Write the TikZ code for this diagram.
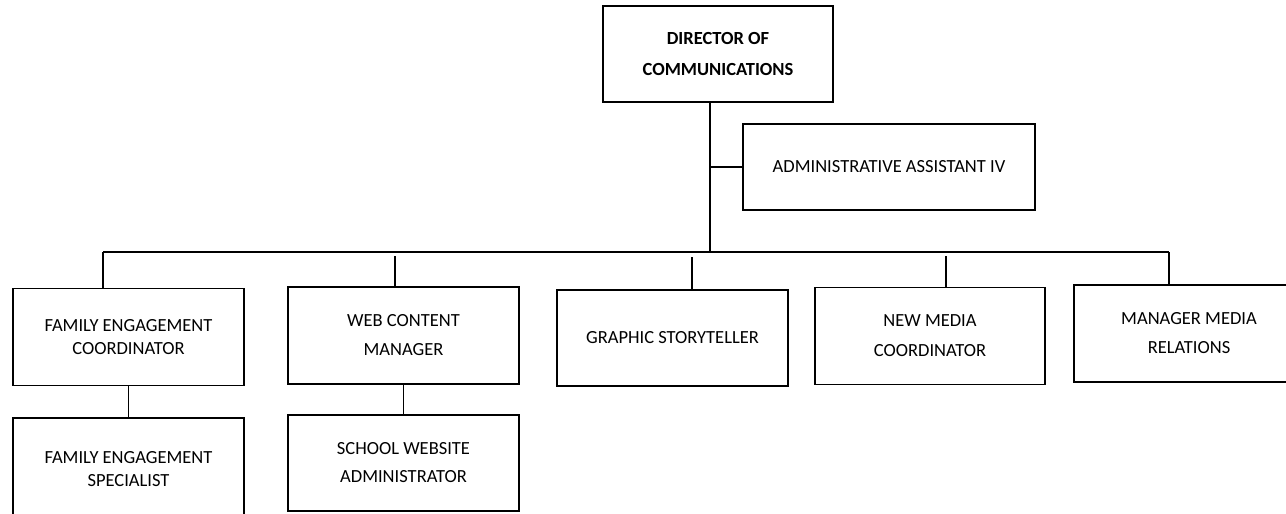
\documentclass[tikz,border=0pt]{standalone}
\usepackage{fontspec}
\setmainfont{Carlito}
\usetikzlibrary{calc}
\def\drawlink{\draw[line width=1.8pt]}
\def\postnode{\node[post]}
\tikzset{post/.style={draw=black, line width=1.8pt, fill=white, align=center,
  inner sep=0pt, minimum width=231pt, minimum height=97pt,
  font=\fontsize{18.5}{23}\selectfont}}

\begin{document}
\begin{tikzpicture}[x=1pt,y=-1pt]
\useasboundingbox (0,0) rectangle (1286,514);

% -------- top of the chart ---------
\postnode[minimum width=230pt, minimum height=96pt, font=\fontsize{18.5}{31}\bfseries] (dir) at (718,54) {DIRECTOR OF\\COMMUNICATIONS};
\postnode[minimum width=292pt, minimum height=86pt] (admin) at (889,167) {ADMINISTRATIVE ASSISTANT IV};
\coordinate (stem) at (710,252); % where the stem meets the bus
\drawlink (dir.south -| stem) to (stem);
\drawlink (stem |- admin.west) to (admin.west);

% -------- first row ---------
\postnode (fec) at (128.5,337) {FAMILY ENGAGEMENT\\COORDINATOR};
\postnode (wcm) at (403.5,335.5) {WEB CONTENT\\[6pt]MANAGER};
\postnode[minimum height=96pt] (gst) at (672.5,338) {GRAPHIC STORYTELLER};
\postnode[minimum width=230pt] (nmc) at (930,336) {NEW MEDIA\\[7pt]COORDINATOR};
\postnode[minimum width=230pt] (mmr) at (1189,333.5) {MANAGER MEDIA\\[6pt]RELATIONS};

% -------- second row ---------
\postnode[minimum height=102pt] (fes) at (128.5,469) {FAMILY ENGAGEMENT\\SPECIALIST};
\postnode[minimum height=96pt] (swa) at (403.5,463) {SCHOOL WEBSITE\\[5pt]ADMINISTRATOR};

% the bus and its drops (the middle drops stop short of the bus)
\coordinate (busL) at (103,252);
\coordinate (busR) at (1169,252);
\coordinate (dwcm) at (395,256);
\coordinate (dgst) at (692,257);
\coordinate (dnmc) at (946,256);
\drawlink (busL) to (busR);
\drawlink (busL) to (busL |- fec.north);
\drawlink (dwcm) to (dwcm |- wcm.north);
\drawlink (dgst) to (dgst |- gst.north);
\drawlink (dnmc) to (dnmc |- nmc.north);
\drawlink (busR) to (busR |- mmr.north);
\drawlink (fec.south) to (fes.north);
\drawlink (wcm.south) to (swa.north);
\end{tikzpicture}
\end{document}
